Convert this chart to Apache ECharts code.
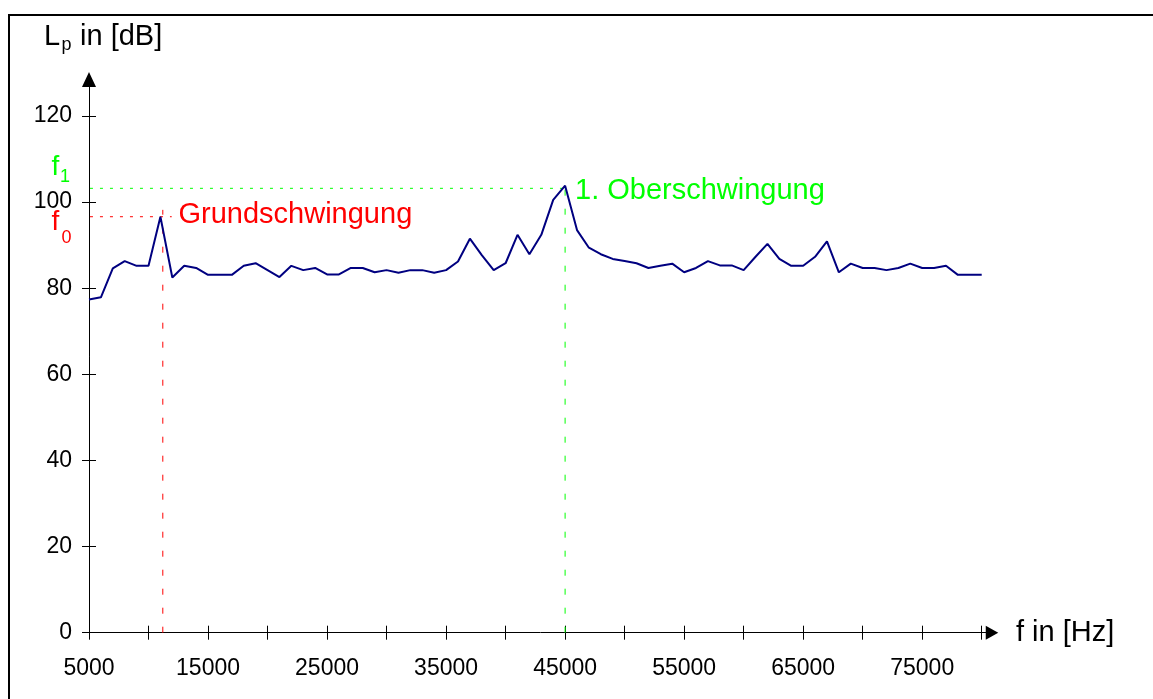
<!DOCTYPE html>
<html>
<head>
<meta charset="utf-8">
<script src="https://cdn.jsdelivr.net/npm/echarts@6/dist/echarts.min.js"></script>
<style>
html,body{margin:0;padding:0;background:#fff;}
#chart{width:1153px;height:699px;}
</style>
</head>
<body>
<div id="chart"></div>
<script>
// Frequencies in Hz
const freqs = [];
for (let f = 5000; f <= 80000; f += 1000) freqs.push(f);
// Sound pressure level Lp in dB
const levels = [
  77.4, 77.9, 84.6, 86.3, 85.2, 85.2, 96.6, 82.5, 85.2, 84.7,
  83.1, 83.1, 83.1, 85.2, 85.8, 84.2, 82.6, 85.2, 84.2, 84.7,
  83.2, 83.2, 84.7, 84.7, 83.7, 84.2, 83.6, 84.2, 84.2, 83.6,
  84.2, 86.2, 91.5, 87.7, 84.2, 85.8, 92.4, 87.9, 92.4, 100.5,
  103.8, 93.5, 89.4, 87.9, 86.8, 86.3, 85.8, 84.7, 85.2, 85.7,
  83.7, 84.7, 86.3, 85.3, 85.3, 84.2, 87.3, 90.3, 86.8, 85.2,
  85.2, 87.3, 90.9, 83.7, 85.7, 84.7, 84.7, 84.2, 84.7, 85.7,
  84.7, 84.7, 85.2, 83.1, 83.1, 83.1
];
// Tick values
const xTicks = [5000,10000,15000,20000,25000,30000,35000,40000,45000,50000,55000,60000,65000,70000,75000,80000];
const xLabels = [5000,15000,25000,35000,45000,55000,65000,75000];
const yTicks = [0,20,40,60,80,100,120];
// Reference lines (fundamental and first harmonic)
const f0Line = {freq: 11200, level: 96.6, hFrom: 4240, hTo: 11950, vTop: 98.2};
const f1Line = {freq: 45000, level: 103.2, hFrom: 4240, hTo: 45000, vTop: 103.2};

const FONT = "'Liberation Sans', Arial, Helvetica, sans-serif";
const chart = echarts.init(document.getElementById('chart'), null, {renderer: 'canvas'});

function axisBase(extra) {
  return Object.assign({
    splitLine: {show: false},
    axisPointer: {show: false}
  }, extra);
}
const plain = v => String(Math.round(v));

const option = {
  backgroundColor: '#fff',
  animation: false,
  grid: {left: 89, right: 161, top: 79.5, bottom: 66.3, containLabel: false},
  xAxis: [
    axisBase({
      type: 'value', min: 5000, max: 80865, position: 'bottom',
      axisLine: {show: true, onZero: false, lineStyle: {color: '#000', width: 1}, symbol: ['none', 'triangle'], symbolSize: [14, 12.5]},
      axisTick: {show: true, length: 7, customValues: xTicks, lineStyle: {color: '#000', width: 1}},
      axisLabel: {show: true, customValues: xLabels, formatter: plain, fontSize: 23, color: '#000', fontFamily: FONT, margin: 24}
    }),
    axisBase({
      type: 'value', min: 5000, max: 80865, position: 'bottom',
      axisLine: {show: false, onZero: false},
      axisTick: {show: true, inside: true, length: 7, customValues: xTicks, lineStyle: {color: '#000', width: 1}},
      axisLabel: {show: false}
    })
  ],
  yAxis: [
    axisBase({
      type: 'value', min: 0, max: 128.47, position: 'left',
      axisLine: {show: true, onZero: false, lineStyle: {color: '#000', width: 1}, symbol: ['none', 'triangle'], symbolSize: [14, 15]},
      axisTick: {show: true, length: 7, customValues: yTicks, lineStyle: {color: '#000', width: 1}},
      axisLabel: {show: true, customValues: yTicks, formatter: plain, fontSize: 23, color: '#000', fontFamily: FONT, margin: 17}
    }),
    axisBase({
      type: 'value', min: 0, max: 128.47, position: 'left',
      axisLine: {show: false, onZero: false},
      axisTick: {show: true, inside: true, length: 7, customValues: yTicks, lineStyle: {color: '#000', width: 1}},
      axisLabel: {show: false}
    })
  ],
  series: [
    {
      type: 'line', name: 'f0h', xAxisIndex: 0, yAxisIndex: 0, silent: true, clip: false, symbol: 'none', z: 1,
      lineStyle: {color: '#ff0000', width: 1, type: [3, 7]},
      data: [[f0Line.hFrom, f0Line.level], [f0Line.hTo, f0Line.level]]
    },
    {
      type: 'line', name: 'f0v', xAxisIndex: 0, yAxisIndex: 0, silent: true, clip: false, symbol: 'none', z: 1,
      lineStyle: {color: '#ff0000', width: 1, type: [6, 13]},
      data: [[f0Line.freq, 0], [f0Line.freq, f0Line.vTop]]
    },
    {
      type: 'line', name: 'f1h', xAxisIndex: 0, yAxisIndex: 0, silent: true, clip: false, symbol: 'none', z: 1,
      lineStyle: {color: '#00ff00', width: 1, type: [3, 7]},
      data: [[f1Line.hFrom, f1Line.level], [f1Line.hTo, f1Line.level]]
    },
    {
      type: 'line', name: 'f1v', xAxisIndex: 0, yAxisIndex: 0, silent: true, clip: false, symbol: 'none', z: 1,
      lineStyle: {color: '#00ff00', width: 1, type: [6, 13]},
      data: [[f1Line.freq, 0], [f1Line.freq, f1Line.vTop]]
    },
    {
      type: 'line', name: 'Lp', xAxisIndex: 0, yAxisIndex: 0, symbol: 'none', z: 3,
      lineStyle: {color: '#000080', width: 2},
      data: freqs.map((f, i) => [f, levels[i]])
    }
  ],
  graphic: [
    {type: 'rect', shape: {x: 9, y: 15, width: 1300, height: 800}, style: {fill: 'none', stroke: '#000', lineWidth: 2}, silent: true, z: 10},
    {type: 'text', x: 44, y: 36.5, style: {text: 'L', font: '29px ' + FONT, fill: '#000', verticalAlign: 'middle'}},
    {type: 'text', x: 61.5, y: 45.5, style: {text: 'p', font: '18px ' + FONT, fill: '#000', verticalAlign: 'middle'}},
    {type: 'text', x: 80, y: 36.5, style: {text: 'in [dB]', font: '29px ' + FONT, fill: '#000', verticalAlign: 'middle'}},
    {type: 'text', x: 1016, y: 633, style: {text: 'f in [Hz]', font: '29px ' + FONT, fill: '#000', verticalAlign: 'middle'}},
    {type: 'text', x: 51.5, y: 167, style: {text: 'f', font: '28px ' + FONT, fill: '#00ff00', verticalAlign: 'middle'}},
    {type: 'text', x: 60, y: 176.7, style: {text: '1', font: '18px ' + FONT, fill: '#00ff00', verticalAlign: 'middle'}},
    {type: 'text', x: 51.5, y: 222, style: {text: 'f', font: '28px ' + FONT, fill: '#ff0000', verticalAlign: 'middle'}},
    {type: 'text', x: 61.5, y: 238, style: {text: '0', font: '18px ' + FONT, fill: '#ff0000', verticalAlign: 'middle'}},
    {type: 'text', x: 178.5, y: 214.8, style: {text: 'Grundschwingung', font: '29px ' + FONT, fill: '#ff0000', verticalAlign: 'middle'}},
    {type: 'text', x: 575, y: 190.5, style: {text: '1. Oberschwingung', font: '29px ' + FONT, fill: '#00ff00', verticalAlign: 'middle'}}
  ]
};
chart.setOption(option);
</script>
</body>
</html>
